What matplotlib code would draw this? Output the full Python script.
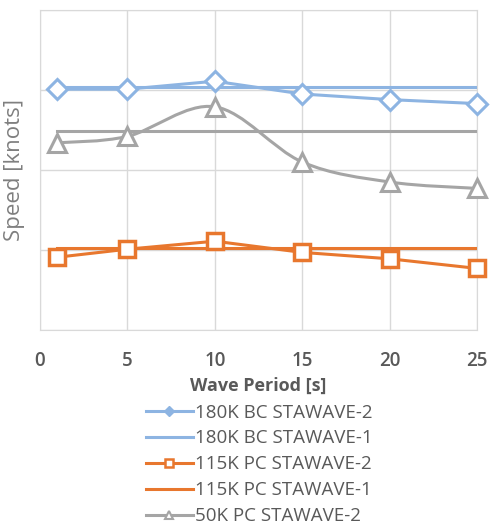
import matplotlib
matplotlib.use("Agg")
import matplotlib.pyplot as plt
from matplotlib.path import Path
from matplotlib.patches import PathPatch
import numpy as np

plt.rcParams["font.family"] = ["Open Sans", "DejaVu Sans"]

# wave periods [s]
periods = [1, 5, 10, 15, 20, 25]

# speed values (y axis has no labels in the source, units arbitrary)
bc180_wave2 = [15.05, 15.05, 15.55, 14.75, 14.4, 14.15]
bc180_wave1 = [15.2, 15.2, 15.2, 15.2, 15.2, 15.2]
pc115_wave2 = [4.55, 5.05, 5.55, 4.85, 4.45, 3.85]
pc115_wave1 = [5.1, 5.1, 5.1, 5.1, 5.1, 5.1]
pc50_wave2 = [11.7, 12.1, 13.95, 10.5, 9.25, 8.85]
pc50_wave1 = [12.45, 12.45, 12.45, 12.45, 12.45, 12.45]

labels = ["180K BC STAWAVE-2", "180K BC STAWAVE-1", "115K PC STAWAVE-2",
          "115K PC STAWAVE-1", "50K PC STAWAVE-2"]

BLUE = "#8db4e2"
ORANGE = "#e8772e"
GRAY = "#a5a5a5"
GRID = "#d9d9d9"
TXT = "#595959"


def smooth_path(xs, ys):
    """Excel-style smoothed line as cubic bezier path (data coords)."""
    pts = np.column_stack([xs, ys]).astype(float)
    verts = [pts[0]]
    codes = [Path.MOVETO]
    n = len(pts)
    for i in range(n - 1):
        p0 = pts[i - 1] if i > 0 else pts[i]
        p1 = pts[i]
        p2 = pts[i + 1]
        p3 = pts[i + 2] if i + 2 < n else pts[i + 1]
        c1 = p1 + (p2 - p0) / 6.0
        c2 = p2 - (p3 - p1) / 6.0
        verts += [c1, c2, p2]
        codes += [Path.CURVE4] * 3
    return Path(verts, codes)


fig = plt.figure(figsize=(4.92, 5.24), dpi=100, facecolor="white")
ax = fig.add_axes([40 / 492, 194 / 524, 437 / 492, 320 / 524])

lw = 2.2
h1, = ax.plot(periods, bc180_wave2, color=BLUE, lw=lw, marker="D", ms=10,
              mfc="white", mec=BLUE, mew=2.2, zorder=4, clip_on=False)
h2, = ax.plot(periods, bc180_wave1, color=BLUE, lw=lw, zorder=3)
h3, = ax.plot(periods, pc115_wave2, color=ORANGE, lw=lw, marker="s", ms=12,
              mfc="white", mec=ORANGE, mew=2.5, zorder=4, clip_on=False)
h4, = ax.plot(periods, pc115_wave1, color=ORANGE, lw=lw, zorder=3)

# gray curve is smoothed in the original
ax.add_patch(PathPatch(smooth_path(periods, pc50_wave2), fill=False,
                       edgecolor=GRAY, lw=lw, zorder=3))
h5, = ax.plot(periods, pc50_wave2, color=GRAY, lw=0, marker="^", ms=13,
              mfc="white", mec=GRAY, mew=2.2, zorder=4, clip_on=False)
ax.plot(periods, pc50_wave1, color=GRAY, lw=lw, zorder=3)

ax.set_xlim(0, 25)
ax.set_ylim(0, 20)
ax.set_xticks([0, 5, 10, 15, 20, 25])
ax.set_yticks([0, 5, 10, 15, 20])
ax.set_yticklabels([])
ax.grid(True, color=GRID, lw=1)
ax.set_axisbelow(True)
for s in ax.spines.values():
    s.set_color(GRID)
ax.tick_params(length=0, pad=15, labelsize=13.5, labelcolor=TXT)
for t in ax.get_xticklabels():
    t.set_fontweight("semibold")

ax.set_xlabel("Wave Period [s]", fontsize=13, fontweight="bold", color=TXT, labelpad=4)
ax.set_ylabel("Speed [knots]", fontsize=16, color="#7f7f7f")
ax.yaxis.set_label_coords(-0.035, 0.5)

leg_h1, = plt.plot([], [], color=BLUE, lw=lw, marker="D", ms=5, mfc=BLUE, mec=BLUE)
leg_h3, = plt.plot([], [], color=ORANGE, lw=lw, marker="s", ms=6, mfc="white", mec=ORANGE, mew=1.8)
leg_h5, = plt.plot([], [], color=GRAY, lw=lw, marker="^", ms=6, mfc="white", mec=GRAY, mew=1.5)
fig.legend([leg_h1, h2, leg_h3, h4, leg_h5], labels,
           loc="upper center", bbox_to_anchor=(0.527, 0.2477), frameon=False,
           fontsize=13.5, labelcolor=TXT, handlelength=2.5, handletextpad=0.15,
           labelspacing=0.42, borderpad=0)

plt.savefig("out.png", dpi=100, facecolor="white")
plt.close()
